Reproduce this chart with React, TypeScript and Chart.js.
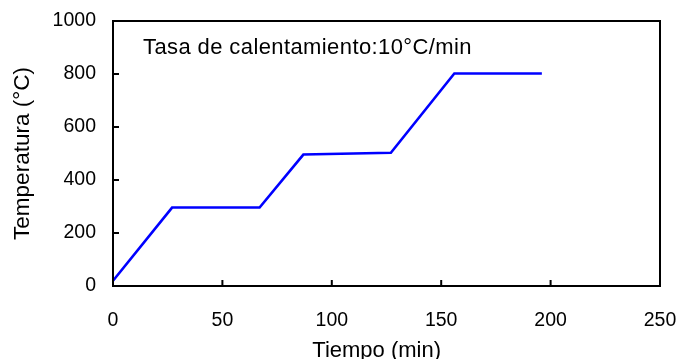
import React, { useEffect, useRef } from "react";
import { Chart, registerables } from "chart.js";

Chart.register(...registerables);

// Heating programme: time (min) vs temperature (°C)
const timeMin = [0, 27, 67, 87, 127, 156, 196];
const temperatureC = [20, 296, 296, 496, 503, 802, 802];
const xTicks = [0, 50, 100, 150, 200, 250];
const yTicks = [0, 200, 400, 600, 800, 1000];
const annotationText = "Tasa de calentamiento:10°C/min";
const xTitle = "Tiempo (min)";
const yTitle = "Temperatura (°C)";

const FONT = "'Liberation Sans', Arial, sans-serif";

// Draws the box frame, inward tick marks, the time-axis title and the rate annotation
const framePlugin = {
  id: "frame",
  afterDatasetsDraw(chart: any) {
    const { ctx, chartArea, scales } = chart;
    const { left, right, top, bottom } = chartArea;
    ctx.save();
    ctx.strokeStyle = "#000";
    ctx.lineWidth = 2;
    ctx.strokeRect(left, top, right - left, bottom - top);
    ctx.beginPath();
    xTicks.forEach((v) => {
      const px = scales.x.getPixelForValue(v);
      if (px > left + 1 && px < right - 1) {
        ctx.moveTo(px, bottom);
        ctx.lineTo(px, bottom - 6);
      }
    });
    yTicks.forEach((v) => {
      const py = scales.y.getPixelForValue(v);
      if (py > top + 1 && py < bottom - 1) {
        ctx.moveTo(left, py);
        ctx.lineTo(left + 6, py);
      }
    });
    ctx.stroke();
    ctx.fillStyle = "#000";
    ctx.textBaseline = "alphabetic";

    // x-axis title, set slightly left of the plot centre
    ctx.font = `22px ${FONT}`;
    ctx.textAlign = "center";
    ctx.fillText(xTitle, left + (right - left) * 0.482, bottom + 71);

    ctx.textAlign = "left";
    (ctx as any).letterSpacing = "0.4px";
    ctx.fillText(annotationText, left + 30, top + 33);
    ctx.restore();
  },
};

export default function App() {
  const canvasRef = useRef<HTMLCanvasElement>(null);

  useEffect(() => {
    if (!canvasRef.current) return;
    const chart = new Chart(canvasRef.current, {
      type: "line",
      data: {
        datasets: [
          {
            data: timeMin.map((t, i) => ({ x: t, y: temperatureC[i] })),
            borderColor: "#0000ff",
            borderWidth: 2.6,
            pointRadius: 0,
            fill: false,
            tension: 0,
          },
        ],
      },
      options: {
        animation: false,
        responsive: false,
        maintainAspectRatio: false,
        layout: { padding: { top: 21, right: 18, left: 0, bottom: 0 } },
        plugins: { legend: { display: false }, tooltip: { enabled: false } },
        scales: {
          x: {
            type: "linear",
            min: 0,
            max: 250,
            afterBuildTicks: (s: any) => {
              s.ticks = xTicks.map((v) => ({ value: v }));
            },
            afterFit: (s: any) => {
              s.height = 73;
              s.paddingLeft = 0;
              s.paddingRight = 0;
            },
            grid: { display: false, drawTicks: false },
            border: { display: false },
            ticks: {
              color: "#000",
              padding: 23,
              maxRotation: 0,
              font: { family: FONT, size: 19.5 },
              callback: (v: any) => String(v),
            },
            title: { display: false },
          },
          y: {
            type: "linear",
            min: 0,
            max: 1000,
            afterBuildTicks: (s: any) => {
              s.ticks = yTicks.map((v) => ({ value: v }));
            },
            afterFit: (s: any) => {
              s.width = 113;
              s.paddingTop = 0;
              s.paddingBottom = 0;
            },
            grid: { display: false, drawTicks: false },
            border: { display: false },
            ticks: {
              color: "#000",
              padding: 17,
              font: { family: FONT, size: 19.5 },
              callback: (v: any) => String(v),
            },
            title: {
              display: true,
              text: yTitle,
              color: "#000",
              font: { family: FONT, size: 22.5 },
              padding: { top: 9, bottom: 0 },
            },
          },
        },
      },
      plugins: [framePlugin],
    });
    return () => chart.destroy();
  }, []);

  return (
    <div style={{ position: "fixed", left: 0, top: 0, width: 678, height: 359, background: "#fff" }}>
      <canvas ref={canvasRef} width={678} height={359} />
    </div>
  );
}
